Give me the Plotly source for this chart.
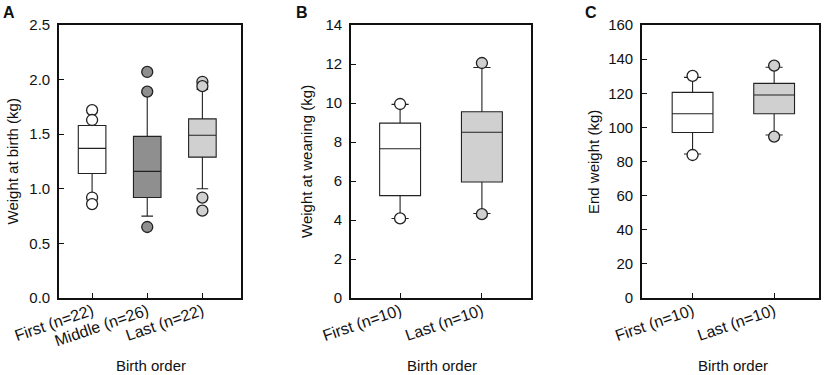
import plotly.graph_objects as go

# ---------------- data ----------------
cats_a = ["First (n=22)", "Middle (n=26)", "Last (n=22)"]
q1_a = [1.14, 0.92, 1.29]
med_a = [1.37, 1.16, 1.49]
q3_a = [1.58, 1.48, 1.64]
lo_a = [0.92, 0.75, 1.00]
hi_a = [1.63, 1.88, 1.91]
out_a = [[1.72, 1.63, 0.92, 0.86], [2.07, 1.89, 0.65], [1.98, 1.94, 0.92, 0.80]]
fill_a = ["#ffffff", "#8f8f8f", "#d0d0d0"]

cats_b = ["First (n=10)", "Last (n=10)"]
q1_b = [5.25, 5.95]
med_b = [7.65, 8.50]
q3_b = [8.97, 9.55]
lo_b = [4.08, 4.33]
hi_b = [9.93, 11.82]
out_b = [[9.95, 4.08], [12.05, 4.30]]
fill_b = ["#ffffff", "#d0d0d0"]

cats_c = ["First (n=10)", "Last (n=10)"]
q1_c = [97.0, 108.0]
med_c = [108.0, 119.0]
q3_c = [120.5, 125.8]
lo_c = [84.4, 95.5]
hi_c = [129.3, 135.2]
out_c = [[130.2, 83.8], [136.2, 94.6]]
fill_c = ["#ffffff", "#d0d0d0"]

panels = [
    ("x", "y", cats_a, q1_a, med_a, q3_a, lo_a, hi_a, out_a, fill_a),
    ("x2", "y2", cats_b, q1_b, med_b, q3_b, lo_b, hi_b, out_b, fill_b),
    ("x3", "y3", cats_c, q1_c, med_c, q3_c, lo_c, hi_c, out_c, fill_c),
]

FONT = "Liberation Sans, Arial, sans-serif"
fig = go.Figure()

for xa, ya, cats, q1, med, q3, lo, hi, outs, fills in panels:
    for i, c in enumerate(cats):
        fig.add_trace(go.Box(
            x=[c], q1=[q1[i]], median=[med[i]], q3=[q3[i]],
            lowerfence=[lo[i]], upperfence=[hi[i]],
            boxpoints=False, width=0.5, whiskerwidth=0.42,
            fillcolor=fills[i], line=dict(color="#222222", width=1.1),
            xaxis=xa, yaxis=ya, showlegend=False, hoverinfo="skip",
        ))
        fig.add_trace(go.Scatter(
            x=[c] * len(outs[i]), y=outs[i], mode="markers",
            marker=dict(symbol="circle", size=11, color=fills[i],
                        line=dict(color="#222222", width=1.3)),
            xaxis=xa, yaxis=ya, showlegend=False, hoverinfo="skip",
        ))

W, H = 829, 375
def px(v):
    return v / W
def py(v):
    return 1 - v / H

ydom = [py(298), py(25)]
base = dict(showline=True, linewidth=1.6, linecolor="#111111", mirror=True,
            ticks="inside", ticklen=5, tickwidth=1.2, tickcolor="#111111",
            showgrid=False, zeroline=False, automargin=False)
xcommon = dict(type="category", categoryorder="array", tickangle=-19,
               ticklabelstandoff=-4,
               tickfont=dict(family=FONT, size=16, color="#111111"), **base)
ycommon = dict(ticklabelstandoff=4,
               tickfont=dict(family=FONT, size=15, color="#111111"), **base)

fig.update_layout(
    width=W, height=H, margin=dict(l=0, r=0, t=0, b=0, autoexpand=False),
    paper_bgcolor="white", plot_bgcolor="white",
    font=dict(family=FONT, size=15, color="#111111"),
    xaxis=dict(domain=[px(59), px(241)], categoryarray=cats_a,
               range=[-0.6, 2.7], anchor="y", **xcommon),
    yaxis=dict(domain=ydom, range=[0, 2.5], dtick=0.5, tickformat=".1f", anchor="x",
               **ycommon),
    xaxis2=dict(domain=[px(351), px(531)], categoryarray=cats_b,
                range=[-0.6, 1.6], anchor="y2", **xcommon),
    yaxis2=dict(domain=ydom, range=[0, 14], dtick=2, anchor="x2", **ycommon),
    xaxis3=dict(domain=[px(642), px(819)], categoryarray=cats_c,
                range=[-0.62, 1.55], anchor="y3", **xcommon),
    yaxis3=dict(domain=ydom, range=[0, 160], dtick=20, anchor="x3", **ycommon),
)

annots = [
    ("A", 9, 13, 0, True), ("B", 302, 13, 0, True), ("C", 591, 13, 0, True),
    ("Weight at birth (kg)", 12.5, 162, -90, False),
    ("Weight at weaning (kg)", 307, 162, -90, False),
    ("End weight (kg)", 594, 162, -90, False),
    ("Birth order", 151, 365, 0, False),
    ("Birth order", 442, 365, 0, False),
    ("Birth order", 733, 365, 0, False),
]
for text, x, y, ang, bold in annots:
    fig.add_annotation(
        text=f"<b>{text}</b>" if bold else text, x=px(x), y=py(y),
        xref="paper", yref="paper", showarrow=False, textangle=ang,
        xanchor="center", yanchor="middle",
        font=dict(family=FONT, size=16 if bold else 15, color="#111111"),
    )

fig.write_html("out.html", config={"displayModeBar": False},
               post_script="document.body.style.margin='0';document.body.style.overflow='hidden';")
